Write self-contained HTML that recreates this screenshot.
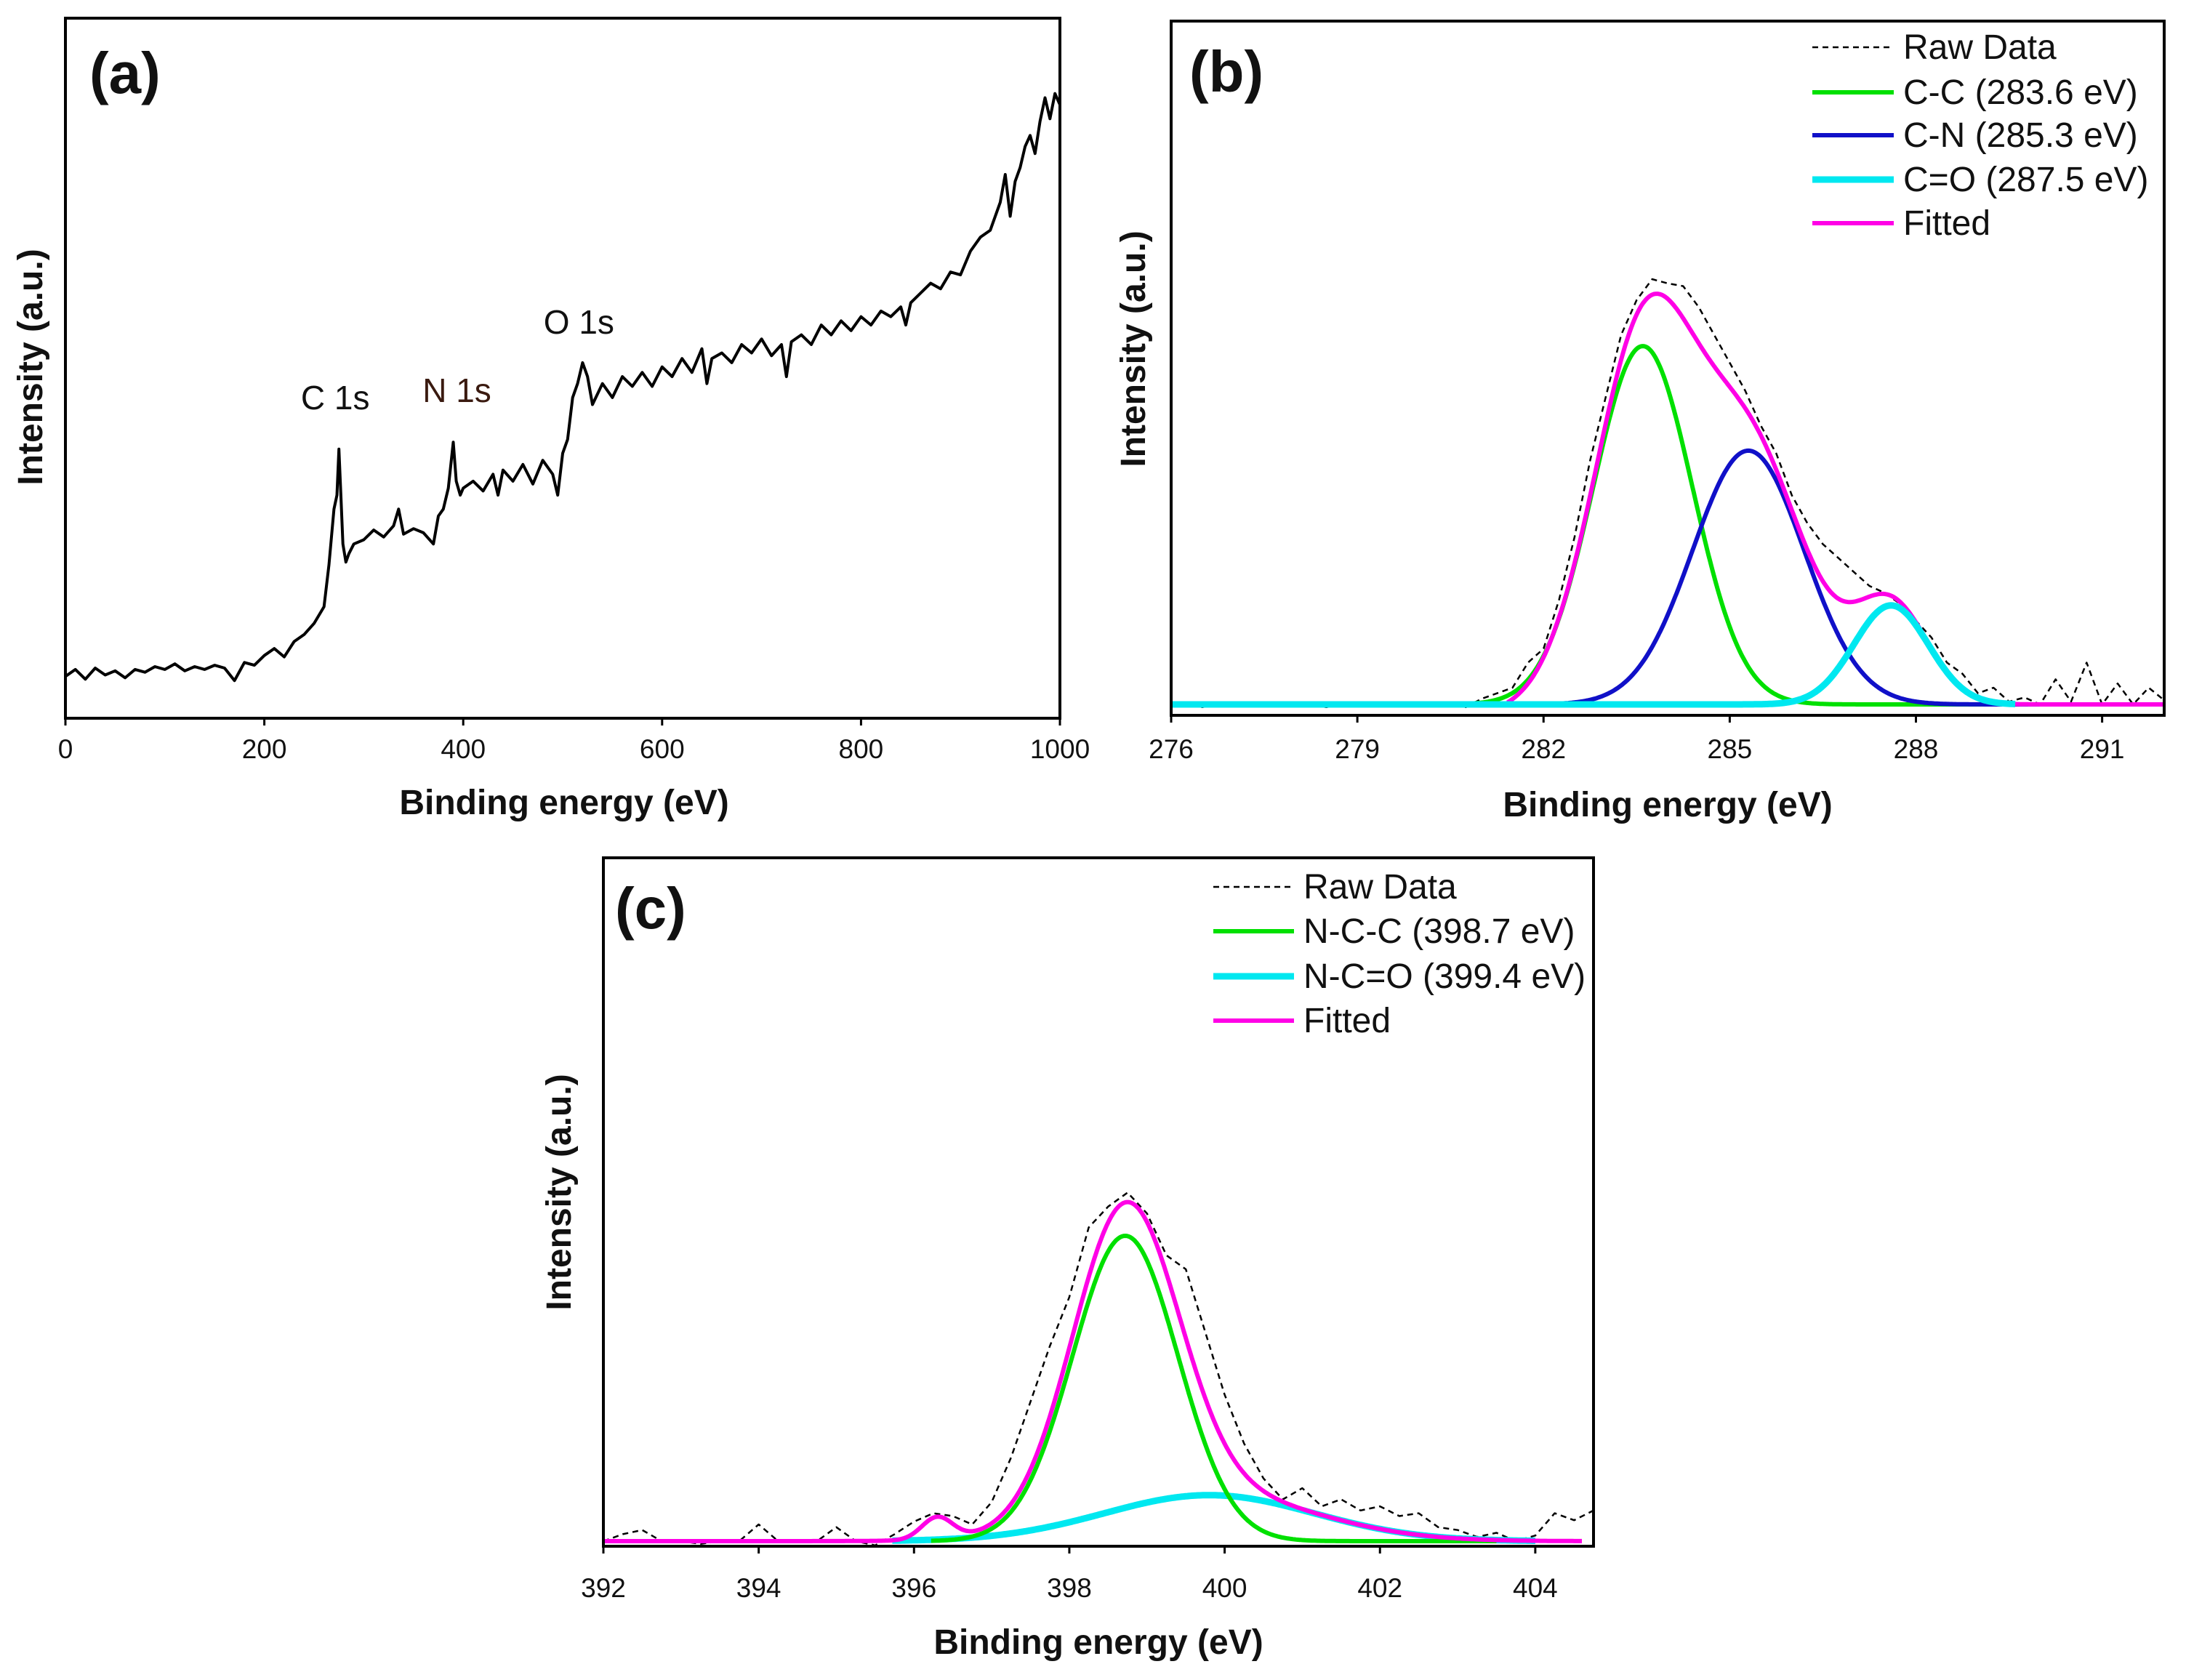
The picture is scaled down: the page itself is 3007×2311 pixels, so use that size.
<!DOCTYPE html>
<html><head><meta charset="utf-8">
<style>
html,body{margin:0;padding:0;background:#fff;}
svg{display:block;font-family:"Liberation Sans",Arial,sans-serif;}
</style></head>
<body>
<svg id="fig" width="3007" height="2311" viewBox="0 0 3007 2311" xmlns="http://www.w3.org/2000/svg">
<rect x="0" y="0" width="3007" height="2311" fill="#fff"/>
</svg>
<script>
// ---------- data (intensities in arbitrary units) ----------
// Panel (a) survey spectrum
const surveyEnergy = [0,10,20,30,40,50,60,70,80,90,100,110,120,130,140,150,160,170,180,190,200,210,220,230,240,250,260,265,270,273,275,277,279,282,285,290,300,310,320,330,335,340,350,360,370,375,380,385,388,390,393,397,400,410,420,430,435,440,450,460,470,480,490,495,500,505,510,515,520,525,530,540,550,560,570,580,590,600,610,620,630,640,645,650,660,670,680,690,700,710,720,725,730,740,750,760,770,780,790,800,810,820,830,840,845,850,860,870,880,890,900,910,920,930,940,945,950,955,960,965,970,975,980,985,990,995,1000];
const surveyIntensity = [30,35,28,36,31,34,29,35,33,37,35,39,34,37,35,38,36,27,40,38,45,50,44,55,60,68,80,110,150,160,193,160,125,112,118,125,128,135,130,138,150,132,136,133,125,145,150,165,185,198,170,160,165,170,163,175,160,178,170,182,168,185,175,160,190,200,230,240,255,245,225,240,230,245,238,248,238,252,245,258,248,265,240,258,262,255,268,262,272,260,268,245,270,275,268,282,275,285,278,288,282,292,288,295,282,298,305,312,308,320,318,335,345,350,370,390,360,385,395,410,418,405,428,445,430,448,440];
const surveyTicks = [0,200,400,600,800,1000];
const surveyPeakLabels = ["C 1s","N 1s","O 1s"];
const surveyPeakEnergies = [275,390,520];

// Panel (b) C 1s
const c1sStart = 276, c1sStep = 0.25;
const c1sRaw = [0,0,-2,0,0,0,0,0,0,0,-2,0,0,0,0,0,0,0,0,-2,
  4,8,12,30,40,75,120,175,220,265,290,305,302,300,285,265,245,225,200,180,150,130,115,105,95,85,80,72,60,48,30,22,8,12,2,5,0,18,2,30,0,15,0,12,3];
const c1sLabels = ["C-C (283.6 eV)","C-N (285.3 eV)","C=O (287.5 eV)"];
const c1sCenters = [283.6,285.3,287.6];
const c1sAmps = [257,182,71];
const c1sSigmas = [0.8,0.9,0.6];
const c1sTicks = [276,279,282,285,288,291];

// Panel (c) N 1s
const n1sStart = 392, n1sStep = 0.25;
const n1sRaw = [0,5,8,0,0,-2,0,0,12,0,0,0,10,0,-3,5,
  14,20,18,12,28,60,100,140,175,225,240,250,235,205,195,150,105,70,45,30,38,25,30,22,25,18,20,10,8,3,6,0,4,20,15,22,20];
const n1sLabels = ["N-C-C (398.7 eV)","N-C=O (399.4 eV)"];
const n1sCenters = [398.72,399.8,396.3];
const n1sAmps = [219,33,16];
const n1sSigmas = [0.68,1.35,0.2];
const n1sTicks = [392,394,396,398,400,402,404];

// ---------- drawing helpers ----------
const S = 1.918;
const NS = "http://www.w3.org/2000/svg";
const svg = document.getElementById('fig');
function el(tag, attrs, parent){
  const e = document.createElementNS(NS, tag);
  for (const k in attrs) e.setAttribute(k, attrs[k]);
  (parent||svg).appendChild(e);
  return e;
}
function gauss(x,c,a,s){ return a*Math.exp(-(x-c)*(x-c)/(2*s*s)); }
function pathFrom(pts){ return pts.map((p,i)=>(i?'L':'M')+p[0].toFixed(1)+' '+p[1].toFixed(1)).join(' '); }

function frame(g, L,T,R,B){
  const r = el('rect',{x:L,y:T,width:R-L,height:B-T,fill:'none',stroke:'#000','stroke-width':4},g);
  
  
}
function xAxis(g, ticks, sx, B, labelY){
  ticks.forEach(t=>{
    const ln = el('line',{x1:sx(t),x2:sx(t),y1:B,y2:B+10,stroke:'#000','stroke-width':3},g);
    
    
    const tx = el('text',{x:sx(t),y:labelY,'font-size':37,'text-anchor':'middle',fill:'#111'},g);
    tx.textContent = t;
    
    
  });
}
function titles(g, xcx, xy, ycx, ycy){
  const xt = el('text',{x:xcx,y:xy,'font-size':48,'font-weight':'bold','text-anchor':'middle',fill:'#111'},g);
  xt.textContent = 'Binding energy (eV)';
  
  
  const yt = el('text',{x:0,y:0,'font-size':48,'font-weight':'bold','text-anchor':'middle',fill:'#111',transform:`translate(${ycx},${ycy}) rotate(-90)`},g);
  yt.textContent = 'Intensity (a.u.)';
  
  
}
function panelLabel(g, txt, x, y){
  const t = el('text',{x:x,y:y,'font-size':80,'font-weight':'bold',fill:'#111'},g);
  t.textContent = txt;
  
  
}
function legendEntry(g, x1, x2, y, color, width, dash, label){
  const ln = el('line',{x1:x1,x2:x2,y1:y,y2:y,stroke:color,'stroke-width':width},g);
  if (dash) ln.setAttribute('stroke-dasharray',dash);
  
  
  const t = el('text',{x:x2+13,y:y+16,'font-size':48,fill:'#111'},g);
  t.textContent = label;
  
  
}
function series(g, pts, color, width, name, dash){
  const p = el('path',{d:pathFrom(pts),fill:'none',stroke:color,'stroke-width':width,'stroke-linejoin':'round'},g);
  if (dash) p.setAttribute('stroke-dasharray',dash);
  
  
  return p;
}

// ---------- Panel (a) ----------
(function(){
  const L=90,R=1458,T=25,B=988;
  const g = el('g',{});
  
  
  const sx = v => L + (v-0)/(1000-0)*(R-L);
  const sy = v => B - v*S;
  const clip = el('clipPath',{id:'clipA'},g);
  el('rect',{x:L,y:T,width:R-L,height:B-T},clip);
  const sg = el('g',{'clip-path':'url(#clipA)'},g);
  series(sg, surveyEnergy.map((e,i)=>[sx(e),sy(surveyIntensity[i])]), '#000', 4, 'survey-spectrum-line');
  frame(g,L,T,R,B);
  xAxis(g, surveyTicks, sx, B, 1043);
  titles(g, 776, 1120, 58, 505);
  panelLabel(g,'(a)',123,128);
  const offs = [[-5,-55],[5,-55],[-5,-40]];
  surveyPeakLabels.forEach((lab,i)=>{
    const idx = surveyEnergy.indexOf(surveyPeakEnergies[i]);
    const t = el('text',{x:sx(surveyPeakEnergies[i])+offs[i][0],y:sy(surveyIntensity[idx])+offs[i][1],'font-size':46,'text-anchor':'middle',fill: i===1?'#3a1a10':'#111'},g);
    t.textContent = lab;
    
    
  });
})();

// ---------- Panel (b) ----------
(function(){
  const L=1611,R=2977,T=29,B=984, base=969;
  const x0=276,x1=292;
  const g = el('g',{});
  
  
  const sx = v => L + (v-x0)/(x1-x0)*(R-L);
  const sy = v => base - v*S;
  const clip = el('clipPath',{id:'clipB'},g);
  el('rect',{x:L,y:T,width:R-L,height:B-T},clip);
  const sg = el('g',{'clip-path':'url(#clipB)'},g);
  series(sg, c1sRaw.map((v,i)=>[sx(c1sStart+i*c1sStep),sy(v)]), '#000', 2.5, 'raw-data-line', '8,6');
  const grid = []; for (let x=x0; x<=x1+1e-9; x+=0.02) grid.push(x);
  const colors = ['#00e000','#1010c8','#00e8f0'];
  const names = ['c-c-component','c-n-component','c-o-component'];
  const widths = [6,6,9];
  const fit = grid.filter(x=>x>=281.4).map(x=>{
    let s=0; c1sCenters.forEach((c,k)=>s+=gauss(x,c,c1sAmps[k],c1sSigmas[k]));
    return [sx(x), sy(s) + (x<282.2 ? (282.2-x)*12 : 0)];
  });
  [0,1].forEach(k=>{
    series(sg, grid.map(x=>[sx(x),sy(gauss(x,c1sCenters[k],c1sAmps[k],c1sSigmas[k]))]), colors[k], widths[k], names[k]);
  });
  series(sg, fit, '#ff00e6', 6, 'fitted-envelope');
  series(sg, grid.filter(x=>x<=289.6).map(x=>[sx(x),sy(gauss(x,c1sCenters[2],c1sAmps[2],c1sSigmas[2]))]), colors[2], widths[2], names[2]);
  frame(g,L,T,R,B);
  xAxis(g, c1sTicks, sx, B, 1043);
  titles(g, 2294, 1123, 1575, 480);
  panelLabel(g,'(b)',1636,126);
  legendEntry(g,2493,2605,65,'#000',2.5,'8,6','Raw Data');
  legendEntry(g,2493,2605,127,colors[0],6,null,c1sLabels[0]);
  legendEntry(g,2493,2605,186,colors[1],6,null,c1sLabels[1]);
  legendEntry(g,2493,2605,247,colors[2],9,null,c1sLabels[2]);
  legendEntry(g,2493,2605,307,'#ff00e6',6,null,'Fitted');
})();

// ---------- Panel (c) ----------
(function(){
  const L=830,R=2192,T=1180,B=2127, base=2120;
  const x0=392, x1=404.75;
  const g = el('g',{});
  
  
  const sx = v => L + (v-x0)/(x1-x0)*(R-L);
  const sy = v => base - v*S;
  const clip = el('clipPath',{id:'clipC'},g);
  el('rect',{x:L,y:T,width:R-L,height:B-T},clip);
  const sg = el('g',{'clip-path':'url(#clipC)'},g);
  series(sg, n1sRaw.map((v,i)=>[sx(n1sStart+i*n1sStep),sy(v)]), '#000', 2.5, 'raw-data-line', '8,6');
  const grid = []; for (let x=x0; x<=x1+1e-9; x+=0.02) grid.push(x);
  series(sg, grid.filter(x=>x>=395.7&&x<=404).map(x=>[sx(x),sy(gauss(x,n1sCenters[1],n1sAmps[1],n1sSigmas[1]))]), '#00e8f0', 9, 'n-c-o-component');
  series(sg, grid.filter(x=>x>=396.2&&x<=403.5).map(x=>[sx(x),sy(gauss(x,n1sCenters[0],n1sAmps[0],n1sSigmas[0]))]), '#00e000', 6, 'n-c-c-component');
  series(sg, grid.filter(x=>x<=404.6).map(x=>{
    let s=0; n1sCenters.forEach((c,k)=>s+=gauss(x,c,n1sAmps[k],n1sSigmas[k]));
    return [sx(x),sy(s)];
  }), '#ff00e6', 6, 'fitted-envelope');
  frame(g,L,T,R,B);
  xAxis(g, n1sTicks, sx, B, 2197);
  titles(g, 1511, 2275, 785, 1640);
  panelLabel(g,'(c)',846,1277);
  legendEntry(g,1669,1780,1220,'#000',2.5,'8,6','Raw Data');
  legendEntry(g,1669,1780,1281,'#00e000',6,null,n1sLabels[0]);
  legendEntry(g,1669,1780,1343,'#00e8f0',9,null,n1sLabels[1]);
  legendEntry(g,1669,1780,1404,'#ff00e6',6,null,'Fitted');
})();
</script>
</body></html>
